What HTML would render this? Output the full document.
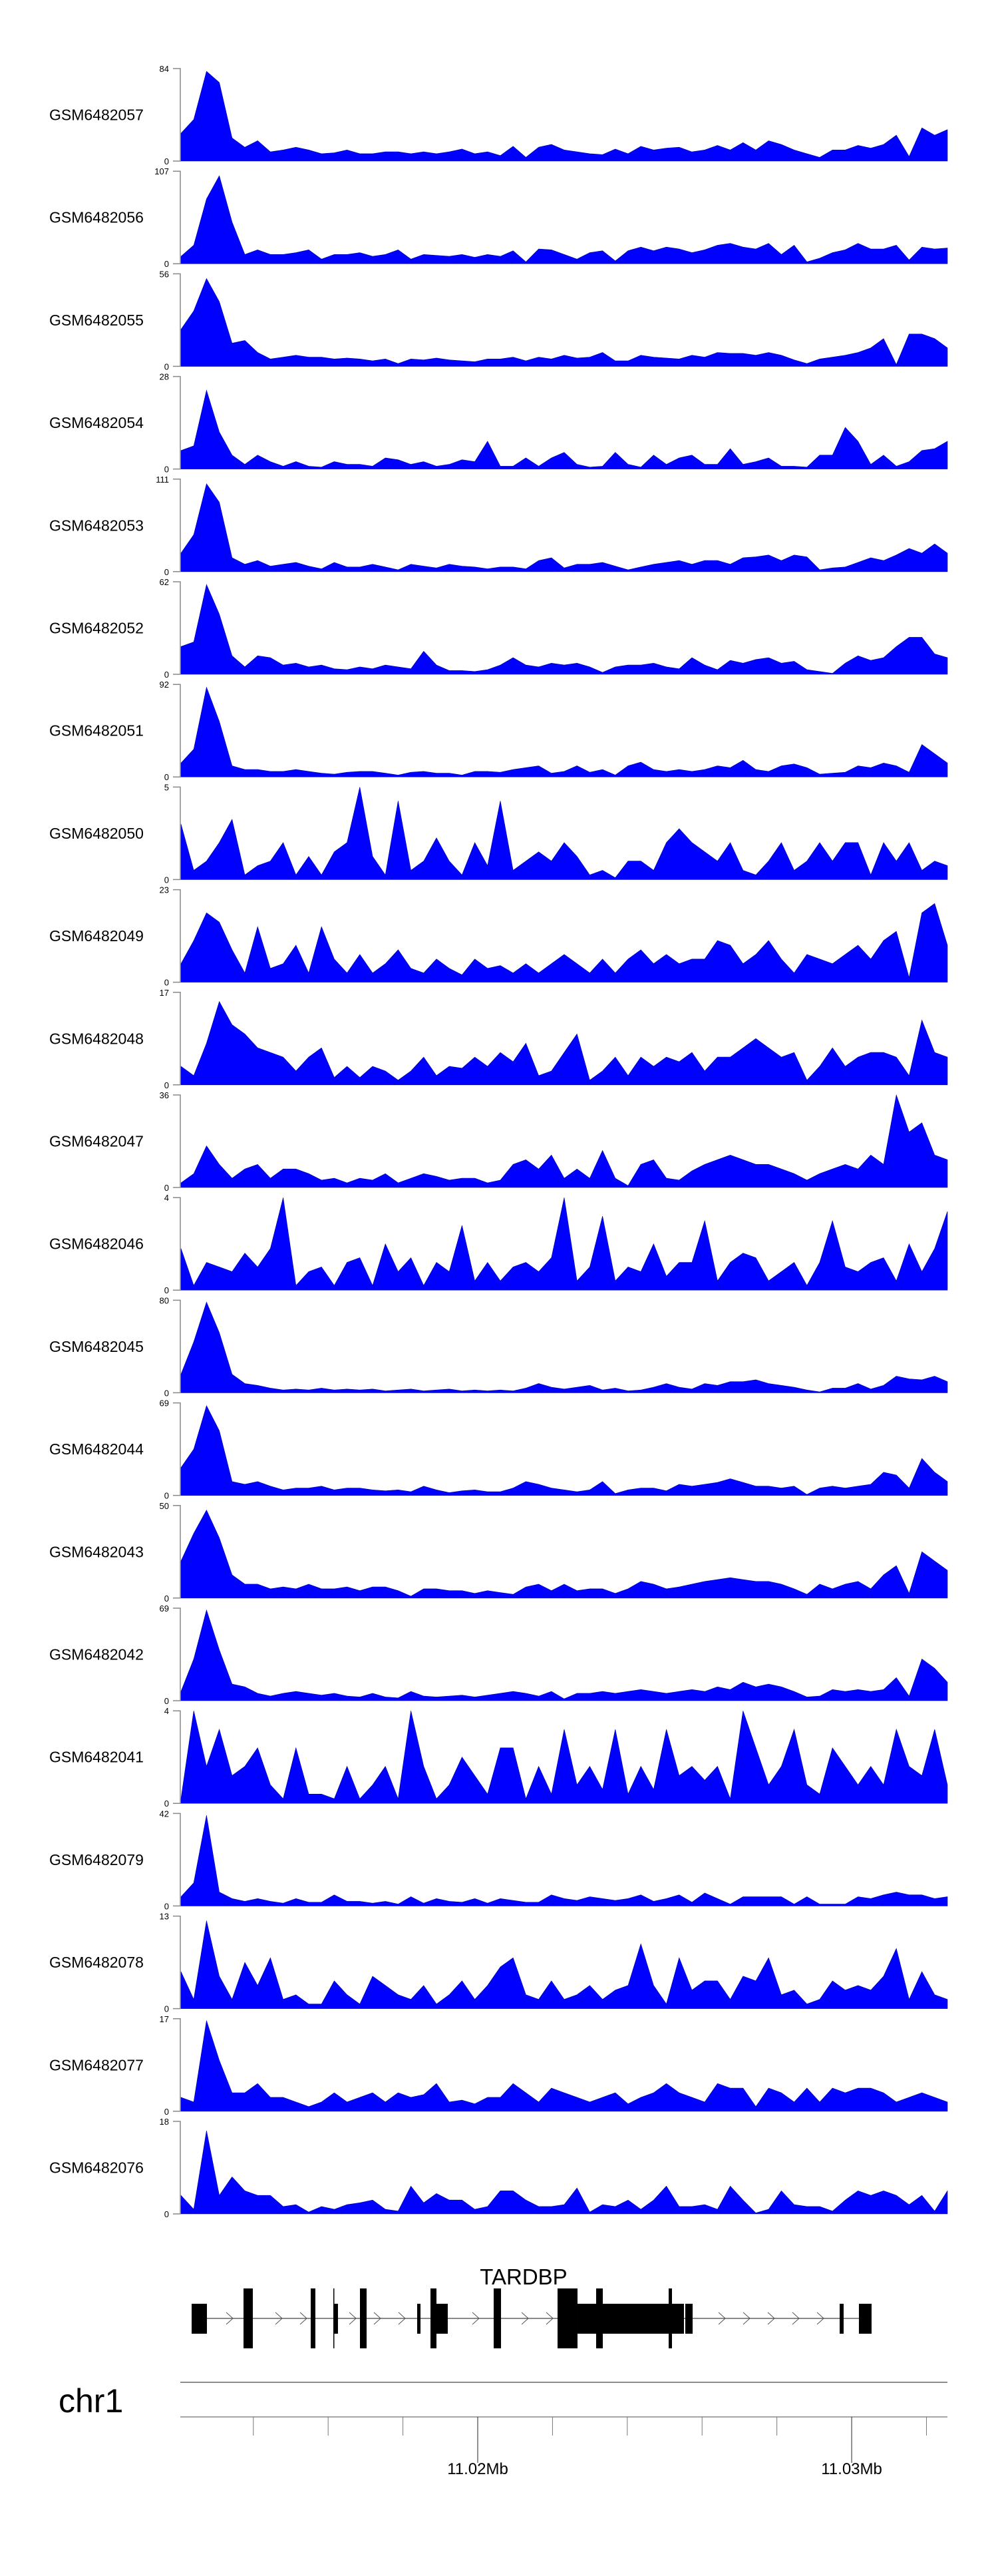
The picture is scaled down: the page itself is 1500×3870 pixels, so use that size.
<!DOCTYPE html>
<html><head><meta charset="utf-8">
<style>
html,body{margin:0;padding:0;background:#fff;}
svg{display:block;font-family:"Liberation Sans",sans-serif;}
</style></head>
<body>
<svg id="chart" xmlns="http://www.w3.org/2000/svg" width="1500" height="3870" viewBox="0 0 1500 3870">
<rect x="0" y="0" width="1500" height="3870" fill="#fff"/>
</svg>
<script>
// ---- data ----
const sampleNames = ["GSM6482057","GSM6482056","GSM6482055","GSM6482054","GSM6482053","GSM6482052","GSM6482051","GSM6482050","GSM6482049","GSM6482048","GSM6482047","GSM6482046","GSM6482045","GSM6482044","GSM6482043","GSM6482042","GSM6482041","GSM6482079","GSM6482078","GSM6482077","GSM6482076"];
const yMaxLabels = [84,107,56,28,111,62,92,5,23,17,36,4,80,69,50,69,4,42,13,17,18];
// coverage as percent of track max, 61 evenly spaced bins across the region
const cov057 = [30,45,97,85,25,15,22,10,12,15,12,8,9,12,8,8,10,10,8,10,8,10,13,8,10,6,16,4,15,18,12,10,8,7,13,8,16,12,14,15,10,12,17,12,20,12,22,18,12,8,4,12,12,17,14,18,28,5,36,28,34];
const cov056 = [8,20,70,95,45,10,15,10,10,12,15,5,10,10,12,8,10,15,5,10,9,8,10,7,10,8,14,2,16,15,10,5,12,14,3,14,18,14,18,16,12,15,20,22,18,16,22,10,20,2,6,12,15,22,16,16,20,4,18,16,17];
const cov055 = [40,60,95,70,25,28,15,8,10,12,10,10,8,9,8,6,8,3,8,7,9,7,6,5,8,8,10,6,10,8,12,9,10,15,6,6,12,10,9,8,12,10,15,14,14,12,15,12,7,3,8,10,12,15,20,30,2,35,35,30,20];
const cov054 = [20,25,85,40,15,5,15,8,3,8,3,2,8,5,5,3,12,10,5,8,3,5,10,8,30,3,3,12,3,12,18,5,2,3,18,5,2,15,5,12,15,5,5,22,5,8,12,3,3,2,15,15,45,30,5,15,3,8,20,22,30];
const cov053 = [20,40,95,75,15,8,12,6,8,10,6,3,10,5,5,8,5,2,8,6,4,8,6,5,3,5,5,3,12,15,4,8,8,10,6,2,5,8,10,12,8,12,12,8,15,16,18,12,18,16,2,4,5,10,15,12,18,25,20,30,20];
const cov052 = [30,35,97,65,20,8,20,18,10,12,8,10,6,5,8,6,10,8,6,25,10,4,4,3,5,10,18,10,8,12,10,12,8,2,8,10,10,12,8,6,18,10,5,15,12,16,18,12,14,5,3,1,12,20,15,18,30,40,40,22,18];
const cov051 = [15,30,97,60,12,8,8,6,6,8,6,4,3,5,6,6,4,2,5,6,4,4,2,6,6,5,8,10,12,4,6,12,5,8,2,12,16,8,6,8,6,8,12,10,18,8,6,12,14,10,3,4,5,12,10,15,12,5,35,25,15];
const cov050 = [60,10,20,40,65,5,15,20,40,5,25,5,30,40,100,25,5,85,10,20,45,20,5,40,15,85,10,20,30,20,40,25,5,10,2,20,20,10,40,55,40,30,20,40,10,5,20,40,10,20,40,20,40,40,5,40,20,40,10,20,15];
const cov049 = [20,45,75,65,35,10,60,15,20,40,10,60,25,10,30,10,20,35,15,10,25,15,8,25,15,18,10,20,10,20,30,20,10,25,10,25,35,20,30,20,25,25,45,40,20,30,45,25,10,30,25,20,30,40,25,45,55,5,75,85,40];
const cov048 = [20,10,45,90,65,55,40,35,30,15,30,40,8,20,8,20,15,5,15,30,10,20,18,30,20,35,25,45,10,15,35,55,5,15,30,10,30,20,30,25,35,15,30,30,40,50,40,30,35,5,20,40,20,30,35,35,30,10,70,35,30];
const cov047 = [5,15,45,25,10,20,25,10,20,20,15,8,10,5,10,8,15,5,10,15,12,8,10,10,5,8,25,30,20,35,10,20,10,40,10,2,25,30,10,8,18,25,30,35,30,25,25,20,15,8,15,20,25,20,35,25,100,60,70,35,30];
const cov046 = [45,5,30,25,20,40,25,45,100,5,20,25,5,30,35,5,50,20,35,5,30,20,70,10,30,10,25,30,20,35,100,10,25,80,10,25,20,50,15,30,30,75,10,30,40,35,10,20,30,5,30,75,25,20,30,35,10,50,20,45,85];
const cov045 = [20,55,98,65,20,10,8,5,3,4,3,5,3,4,3,4,2,3,4,2,3,4,2,3,2,3,2,5,10,6,4,6,8,3,5,2,3,6,10,6,4,10,8,12,12,14,10,8,6,3,1,5,5,10,4,8,18,15,14,18,12];
const cov044 = [30,50,97,70,15,12,15,10,6,8,8,10,6,8,8,6,5,6,4,10,6,3,5,6,4,4,8,15,12,8,6,4,6,15,2,6,8,8,5,12,10,12,14,18,14,10,10,8,10,1,8,10,8,10,12,25,22,8,40,25,15];
const cov043 = [40,70,95,65,25,15,15,10,12,10,15,10,10,12,8,12,12,8,2,10,10,8,8,5,8,6,4,12,15,8,15,8,10,10,5,10,18,15,10,12,15,18,20,22,20,18,18,15,10,4,15,10,15,18,10,25,35,5,50,40,30];
const cov042 = [10,45,98,55,18,15,8,5,8,10,8,6,8,5,4,8,4,3,10,5,4,5,6,4,6,8,10,8,5,10,2,8,8,10,8,10,12,10,8,10,12,10,15,12,20,15,18,15,10,4,5,12,10,12,10,12,25,5,45,35,20];
const cov041 = [5,100,40,80,30,40,60,20,5,60,10,10,5,40,5,20,40,5,100,40,5,20,50,30,10,60,60,5,40,10,80,20,40,15,80,10,40,15,80,30,40,25,40,5,100,60,20,40,80,20,10,60,40,20,40,20,80,40,30,80,20];
const cov079 = [10,25,98,15,8,5,8,5,3,8,4,4,12,5,5,3,5,2,10,3,8,5,4,8,3,8,6,4,4,12,8,6,10,8,6,8,12,5,8,12,4,14,8,2,10,10,10,10,2,10,2,2,2,10,8,12,15,12,12,8,10];
const cov078 = [40,10,95,35,10,50,25,55,10,15,5,5,30,15,5,35,25,15,10,25,5,15,30,10,25,45,55,15,10,30,10,15,25,10,20,25,70,25,5,55,20,30,30,10,35,30,55,15,20,5,10,30,20,25,20,35,65,10,40,15,10];
const cov077 = [15,10,98,55,20,20,30,15,15,10,5,10,20,10,15,20,10,20,15,18,30,10,12,8,15,15,30,20,10,25,20,15,10,15,20,8,15,20,30,20,15,10,30,25,25,5,25,20,10,25,10,25,20,25,25,20,10,15,20,15,10];
const cov076 = [20,5,90,20,40,25,20,20,8,10,2,8,5,10,12,15,5,3,30,12,22,15,15,5,8,25,25,15,8,8,10,28,2,10,8,15,5,15,30,8,8,10,5,30,15,1,5,25,10,8,8,3,15,25,20,25,20,10,20,3,25];
const coverage = [cov057,cov056,cov055,cov054,cov053,cov052,cov051,cov050,cov049,cov048,cov047,cov046,cov045,cov044,cov043,cov042,cov041,cov079,cov078,cov077,cov076];

// gene model (genomic bp)
const geneName = "TARDBP";
const geneStart = 11012350, geneEnd = 11030532;
const utrExons = [[11012350,11012759],[11016139,11016263],[11018381,11018470],[11018897,11019199],[11022669,11025515],[11025551,11025747],[11029679,11029785],[11030194,11030532]];
const cdsExons = [[11013737,11013986],[11015534,11015659],[11016139,11016157],[11016851,11017029],[11018737,11018897],[11020427,11020623],[11022135,11022669],[11023167,11023345],[11025106,11025195]];
const axisTicks = [11014000,11016000,11018000,11020000,11022000,11024000,11026000,11028000,11030000,11032000];
const axisLabels = [[11020000,"11.02Mb"],[11030000,"11.03Mb"]];
const chromName = "chr1";

// ---- layout ----
const NS = "http://www.w3.org/2000/svg";
const svg = document.getElementById("chart");
const plotL = 272, plotR = 1424;
const trackTop0 = 103, trackPitch = 154.2, trackH = 139;
const regionStart = 11012047, regionEnd = 11032561;
function gx(bp){ return 271 + (bp - regionStart) / (regionEnd - regionStart) * (1424 - 271); }
function mk(tag, attrs, parent){
  const e = document.createElementNS(NS, tag);
  for (const k in attrs) e.setAttribute(k, attrs[k]);
  (parent || svg).appendChild(e);
  return e;
}

coverage.forEach((vals, t) => {
  const top = trackTop0 + t * trackPitch;
  const bot = top + trackH;
  const g = mk("g", {});
  
  
  const xs = i => plotL + i * (plotR - plotL) / (vals.length - 1);
  const ys = v => bot - v / 100 * trackH;
  let d = "M" + plotL + "," + bot;
  vals.forEach((v, i) => { d += " L" + xs(i).toFixed(1) + "," + ys(v).toFixed(1); });
  d += " L" + plotR + "," + bot + " Z";
  const area = mk("path", {d: d, fill: "#0000ff", stroke: "#0000aa", "stroke-width": "0.6"}, g);
  
  
  const ax = mk("path", {d: "M260," + top + " H271 V" + bot + " H260", fill: "none", stroke: "#888", "stroke-width": "1.5"}, g);
  
  
  const tmax = mk("text", {x: 254, y: top + 5, "font-size": "13", "text-anchor": "end", fill: "#000"}, g);
  tmax.textContent = yMaxLabels[t];
  
  
  const t0 = mk("text", {x: 254, y: bot + 5, "font-size": "13", "text-anchor": "end", fill: "#000"}, g);
  t0.textContent = "0";
  
  
  const lab = mk("text", {x: 74, y: top + trackH / 2 + 8, "font-size": "23", fill: "#000"}, g);
  lab.textContent = sampleNames[t];
  
  
});

// gene model
const gy = 3483;
const gg = mk("g", {});


const gl = mk("line", {x1: gx(geneStart), x2: gx(geneEnd), y1: gy, y2: gy, stroke: "#444", "stroke-width": "1.3"}, gg);


const allEx = utrExons.concat(cdsExons);
for (let x = gx(geneStart) + 20; x < gx(geneEnd) - 8; x += 37) {
  if (allEx.some(e => x > gx(e[0]) - 8 && x < gx(e[1]) + 8)) continue;
  const c = mk("polyline", {points: (x-5)+","+(gy-9)+" "+(x+5)+","+gy+" "+(x-5)+","+(gy+9), fill: "none", stroke: "#555", "stroke-width": "1"}, gg);
  
  
}
utrExons.forEach(e => {
  const r = mk("rect", {x: gx(e[0]), y: 3461, width: Math.max(1.5, gx(e[1]) - gx(e[0])), height: 45, fill: "#000"}, gg);
  
  
});
cdsExons.forEach(e => {
  const r = mk("rect", {x: gx(e[0]), y: 3438, width: Math.max(1.5, gx(e[1]) - gx(e[0])), height: 90, fill: "#000"}, gg);
  
  
});
const gn = mk("text", {x: (gx(geneStart) + gx(geneEnd)) / 2 - 12, y: 3432, "font-size": "33", "text-anchor": "middle", fill: "#000"}, gg);
gn.textContent = geneName;



// genome axis
const ag = mk("g", {});


const l1 = mk("line", {x1: 271, x2: 1424, y1: 3579, y2: 3579, stroke: "#666", "stroke-width": "1.5"}, ag);


const l2 = mk("line", {x1: 271, x2: 1424, y1: 3631, y2: 3631, stroke: "#888", "stroke-width": "1.5"}, ag);


axisTicks.forEach(bp => {
  const major = axisLabels.some(a => a[0] === bp);
  const tk = mk("line", {x1: gx(bp), x2: gx(bp), y1: 3631, y2: major ? 3700 : 3659, stroke: major ? "#222" : "#777", "stroke-width": "1"}, ag);
  
  
});
axisLabels.forEach(a => {
  const t = mk("text", {x: gx(a[0]), y: 3717, "font-size": "24", "text-anchor": "middle", fill: "#000"}, ag);
  t.textContent = a[1];
  
  
});
const ch = mk("text", {x: 88, y: 3624, "font-size": "50", fill: "#000"}, ag);
ch.textContent = chromName;


</script>
</body></html>
